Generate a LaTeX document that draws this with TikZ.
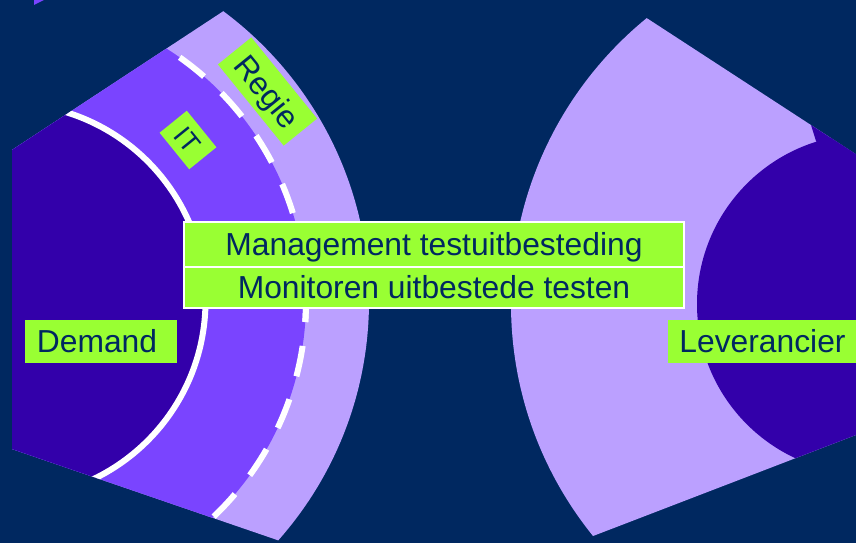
\documentclass[tikz,border=0pt]{standalone}
\usepackage{fontspec}
\setmainfont{Liberation Sans}
\definecolor{bgnavy}{RGB}{0,40,96}
\definecolor{lav}{RGB}{187,160,255}
\definecolor{midp}{RGB}{122,68,255}
\definecolor{darkp}{RGB}{51,0,170}
\definecolor{limeg}{RGB}{153,255,51}
\definecolor{txtnavy}{RGB}{0,40,96}
\begin{document}
\begin{tikzpicture}[x=1pt,y=-1pt,
  gbox/.style={fill=limeg, text=txtnavy, inner sep=0pt,
    font=\fontsize{31.8}{38}\selectfont, text height=22.8pt, text depth=0pt},
  whitering/.style={white, line width=6pt},
  dashring/.style={white, line width=6pt, dash pattern=on 31pt off 24pt}]
\fill[bgnavy] (0,0) rectangle (856,543);
\useasboundingbox (0,0) rectangle (856,543);
\coordinate (cL) at (8,301);
\coordinate (cR) at (880,304);
\coordinate (cRd) at (867,304);
% tiny sliver top-left
\fill[midp] (34,0) -- (44,0) -- (34,5) -- cycle;
% left shape
\begin{scope}
  \clip (12,150) -- (420,-118) -- (420,589) -- (12,449) -- cycle;
  \fill[lav] (cL) circle[radius=361];
  \fill[midp] (cL) circle[radius=298];
  \fill[darkp] (cL) circle[radius=197.5];
  \draw[whitering] (cL) circle[radius=197.5];
  \draw[dashring] (cL) ++(-1.9:298) arc[start angle=-1.9, end angle=180, radius=298];
  \draw[dashring] (cL) ++(4:298) arc[start angle=4, end angle=-180, radius=298];
\end{scope}
% right shape
\begin{scope}
  \clip (450,-110) -- (900,183) -- (900,418) -- (450,591) -- cycle;
  \fill[lav] (cR) circle[radius=369];
  \fill[darkp] (cRd) circle[radius=170];
  \fill[darkp] (811,125) -- (816,141) -- (870,200) -- (900,200) -- (900,100) -- cycle;
\end{scope}
% labels
\node[gbox, minimum width=104.5pt, minimum height=43pt, rotate=-51] (regie) at (267.5,91.5) {Regie};
\node[gbox, font=\fontsize{27}{32}\selectfont, text height=19.3pt, minimum width=47pt, minimum height=35pt, rotate=-51] (it) at (188,140) {IT};
\node[gbox, minimum width=152pt, minimum height=43pt] (demand) at (101,341.5) {\hspace*{-8pt}Demand};
\node[gbox, minimum width=189pt, minimum height=43pt] (lev) at (762.5,341.5) {Leverancier};
\node[gbox, draw=white, line width=1.5pt, minimum width=500pt, minimum height=45pt] (mgmt) at (434,244.5) {Management testuitbesteding};
\node[gbox, draw=white, line width=1.5pt, minimum width=500pt, minimum height=41pt] (mon) at (434,287.5) {Monitoren uitbestede testen};
\end{tikzpicture}
\end{document}
